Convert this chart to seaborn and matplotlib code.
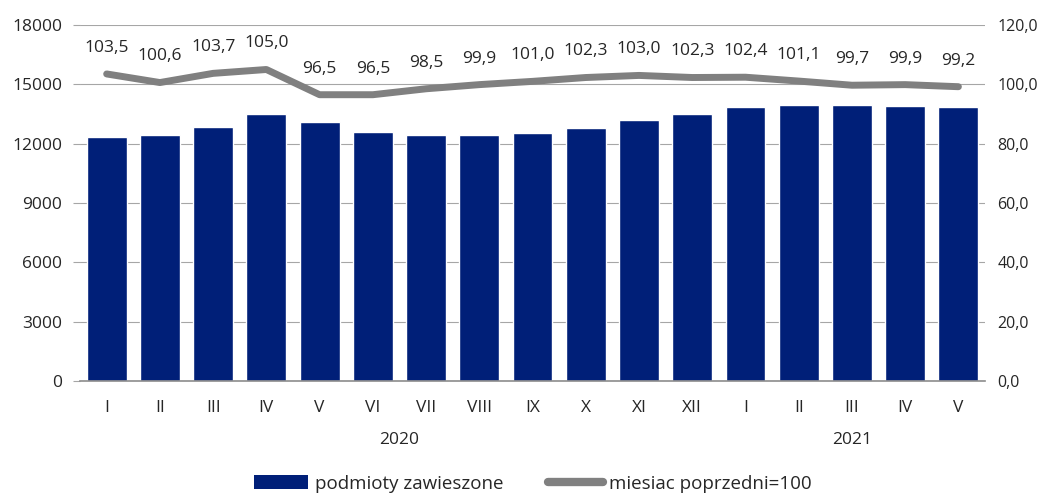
import numpy as np
import pandas as pd
import matplotlib
matplotlib.use("Agg")
import matplotlib.pyplot as plt
import seaborn as sns
from matplotlib.patches import Patch
from matplotlib.lines import Line2D

# data
months = ["I", "II", "III", "IV", "V", "VI", "VII", "VIII", "IX", "X", "XI", "XII",
          "I", "II", "III", "IV", "V"]
years = ["2020"] * 12 + ["2021"] * 5
suspended = [12340, 12440, 12840, 13500, 13080, 12600, 12420, 12420, 12540,
             12800, 13180, 13500, 13830, 13980, 13960, 13900, 13830]
prev_month = [103.5, 100.6, 103.7, 105.0, 96.5, 96.5, 98.5, 99.9, 101.0,
              102.3, 103.0, 102.3, 102.4, 101.1, 99.7, 99.9, 99.2]

BAR_COLOR = "#001f78"
LINE_COLOR = "#808080"
TEXT_COLOR = "#262626"

df = pd.DataFrame({
    "key": [f"{m} {y}" for m, y in zip(months, years)],
    "month": months,
    "year": years,
    "suspended": suspended,
    "index": prev_month,
})
df["pos"] = np.arange(len(df))

sns.set_style("white")
plt.rcParams["font.family"] = ["Open Sans", "DejaVu Sans"]
plt.rcParams["font.size"] = 12.5

fig = plt.figure(figsize=(10.45, 4.97), dpi=100)
ax = fig.add_axes([0.0766, 0.2334, 0.866, 0.7163])

sns.barplot(data=df, x="key", y="suspended", order=df["key"], color=BAR_COLOR,
            width=0.75, saturation=1, ax=ax, zorder=2)
ax.set_ylim(0, 18000)
ax.set_yticks(np.arange(0, 18001, 3000))
ax.set_xlim(-0.5, len(df) - 0.5)
ax.set_xticks(df["pos"])
ax.set_xticklabels(df["month"])
ax.set_xlabel("")
ax.set_ylabel("")
ax.grid(axis="y", color="#a6a6a6", linewidth=0.8, zorder=0)
ax.set_axisbelow(True)
for s in ["top", "right", "left"]:
    ax.spines[s].set_visible(False)
ax.spines["bottom"].set_color("#8c8c8c")
ax.spines["bottom"].set_linewidth(1.2)
ax.tick_params(axis="y", length=5, color="#a6a6a6", pad=8, labelcolor=TEXT_COLOR)
ax.tick_params(axis="x", length=0, pad=14, labelcolor=TEXT_COLOR)

ax2 = ax.twinx()
sns.lineplot(data=df, x="pos", y="index", color=LINE_COLOR, linewidth=5,
             ax=ax2, zorder=3)
ax2.set_ylim(0, 120)
ax2.set_yticks(np.arange(0, 121, 20))
ax2.set_yticklabels([f"{v:.1f}".replace(".", ",") for v in np.arange(0, 121, 20)])
ax2.set_xlim(-0.5, len(df) - 0.5)
ax2.set_xlabel("")
ax2.set_ylabel("")
for s in ax2.spines.values():
    s.set_visible(False)
ax2.tick_params(axis="y", length=0, pad=9, labelcolor=TEXT_COLOR, labelsize=11.5)

for p, v in zip(df["pos"], df["index"]):
    ax2.annotate(f"{v:.1f}".replace(".", ","), (p, v), xytext=(0, 13),
                 textcoords="offset points", ha="center", va="bottom",
                 color=TEXT_COLOR)

# year labels
for yr in ["2020", "2021"]:
    sub = df[df["year"] == yr]
    ax.text(sub["pos"].mean(), -0.165, yr, transform=ax.get_xaxis_transform(),
            ha="center", va="center", color=TEXT_COLOR)

handles = [Patch(facecolor=BAR_COLOR, edgecolor="none"),
           Line2D([0], [0], color=LINE_COLOR, linewidth=6, solid_capstyle="round")]
fig.legend(handles, ["podmioty zawieszone", "miesiac poprzedni=100"],
           loc="lower center", bbox_to_anchor=(0.51, -0.025), ncol=2,
           frameon=False, handlelength=2.9, handleheight=0.8,
           columnspacing=2.4, handletextpad=0.35, fontsize=13.5)

fig.savefig("out.png", dpi=100)
